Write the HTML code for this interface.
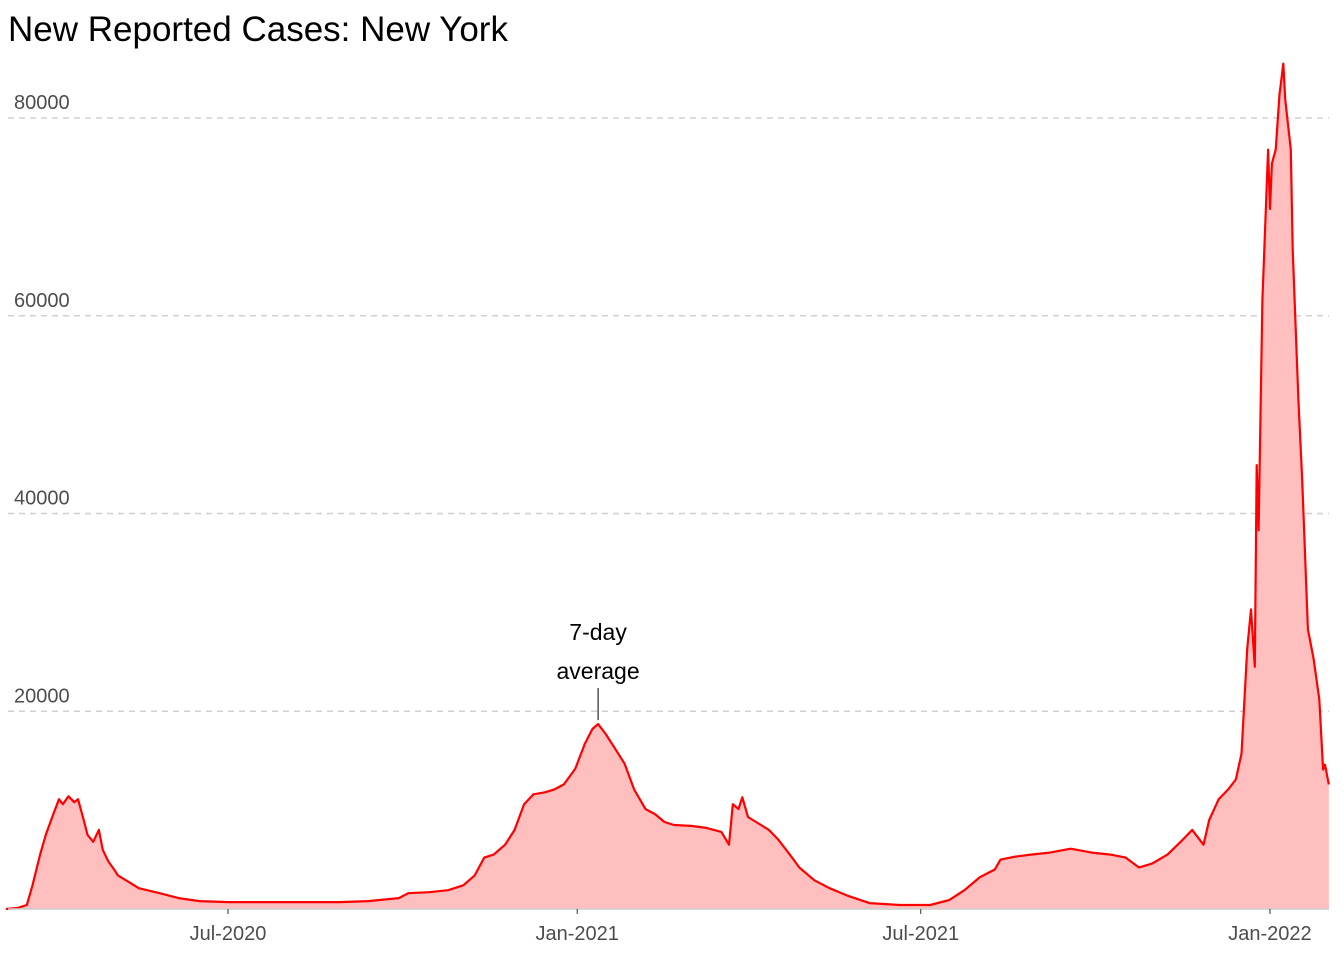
<!DOCTYPE html>
<html><head><meta charset="utf-8"><style>
body{margin:0;background:#fff;}
svg{display:block;font-family:"Liberation Sans",sans-serif;}
</style></head><body>
<svg id="chart" width="1344" height="960" viewBox="0 0 1344 960">
<text x="8" y="41" font-size="35" fill="#000">New Reported Cases: New York</text>
<g id="grid"></g><g id="marks"></g><g id="axes"></g>
</svg>
<script>
const startDate = "2020-03-06";
const dayOffsets = [0,6,11,14,18,21,25,28,30,33,36,38,41,43,46,49,51,54,57,59,65,70,81,91,102,117,134,155,176,191,207,212,223,233,241,247,252,257,263,268,273,278,284,289,294,300,305,309,312,316,321,326,331,337,342,347,352,361,369,377,381,383,386,388,391,397,402,407,413,418,426,434,444,455,471,487,497,505,513,521,524,532,540,550,561,572,582,590,597,604,612,620,625,631,634,639,644,648,651,654,656,658,659,660,662,665,666,667,669,671,672,673,674,677,678,681,683,686,689,692,694,695,697];
const cases = [0,100,400,2400,5500,7500,9600,11100,10600,11400,10800,11100,9000,7500,6800,8000,6000,4800,4000,3400,2700,2100,1600,1100,800,700,700,700,700,800,1100,1600,1700,1900,2400,3400,5200,5500,6500,8000,10600,11600,11800,12100,12600,14200,16700,18200,18700,17700,16200,14700,12100,10100,9600,8800,8500,8400,8200,7800,6500,10600,10100,11300,9300,8600,8000,7000,5500,4200,2900,2100,1300,600,400,400,900,1900,3200,4000,5000,5300,5500,5700,6100,5700,5500,5200,4200,4600,5500,7000,8000,6500,9000,11100,12100,13100,15700,26300,30300,24500,44900,38300,61600,76800,70800,75400,76800,82400,83900,85500,81900,76800,66700,51500,43400,28300,25300,21200,14100,14600,12600];
const yTicks = [20000,40000,60000,80000];
const xTickDates = ["2020-07-01","2021-01-01","2021-07-01","2022-01-01"];
const xTickLabels = ["Jul-2020","Jan-2021","Jul-2021","Jan-2022"];
const annotationDay = 312;
const annotationValue = 18700;

const NS="http://www.w3.org/2000/svg";
const t0=Date.parse(startDate);
const pxPerDay=1.898, x0=5.9, yBase=909, pxPerUnit=197.75/20000;
const xDay=d=>x0+d*pxPerDay;
const xDate=s=>xDay((Date.parse(s)-t0)/86400000);
const y=v=>yBase-v*pxPerUnit;
function mk(tag,attrs,parent){const e=document.createElementNS(NS,tag);for(const k in attrs)e.setAttribute(k,attrs[k]);parent.appendChild(e);return e;}
const grid=document.getElementById('grid'),marks=document.getElementById('marks'),axes=document.getElementById('axes');
yTicks.forEach(v=>{
  const l=mk('line',{x1:8,x2:1329,y1:y(v),y2:y(v),stroke:'#d0d0d0','stroke-width':1.5,'stroke-dasharray':'6,5'},grid);
  
  
  const t=mk('text',{x:14,y:y(v)-9,'font-size':20,fill:'#4d4d4d'},grid);
  t.textContent=v;
  
  
});
let pts=dayOffsets.map((d,i)=>xDay(d).toFixed(1)+','+y(cases[i]).toFixed(1));
const area=mk('path',{d:'M'+xDay(dayOffsets[0])+','+yBase+' L'+pts.join(' L')+' L'+xDay(dayOffsets[dayOffsets.length-1])+','+yBase+' Z',fill:'#ffbfbf',stroke:'none'},marks);


const line=mk('path',{d:'M'+pts.join(' L'),fill:'none',stroke:'#ff0000','stroke-width':2.2,'stroke-linejoin':'round'},marks);


const base=mk('line',{x1:8,x2:1329,y1:yBase,y2:yBase,stroke:'#cccccc','stroke-width':1.5},axes);


xTickDates.forEach((s,i)=>{
  const tk=mk('line',{x1:xDate(s),x2:xDate(s),y1:yBase,y2:yBase+5,stroke:'#333','stroke-width':1},axes);
  
  
  const t=mk('text',{x:xDate(s),y:940,'font-size':20,fill:'#4d4d4d','text-anchor':'middle'},axes);
  t.textContent=xTickLabels[i];
  
  
});
const ax=xDay(annotationDay);
const al=mk('line',{x1:ax,x2:ax,y1:y(annotationValue)-4,y2:688,stroke:'#000','stroke-width':1},axes);


const a1=mk('text',{x:ax,y:640,'font-size':23,fill:'#000','text-anchor':'middle'},axes);
a1.textContent='7-day';


const a2=mk('text',{x:ax,y:679,'font-size':23,fill:'#000','text-anchor':'middle'},axes);
a2.textContent='average';


</script>
</body></html>
